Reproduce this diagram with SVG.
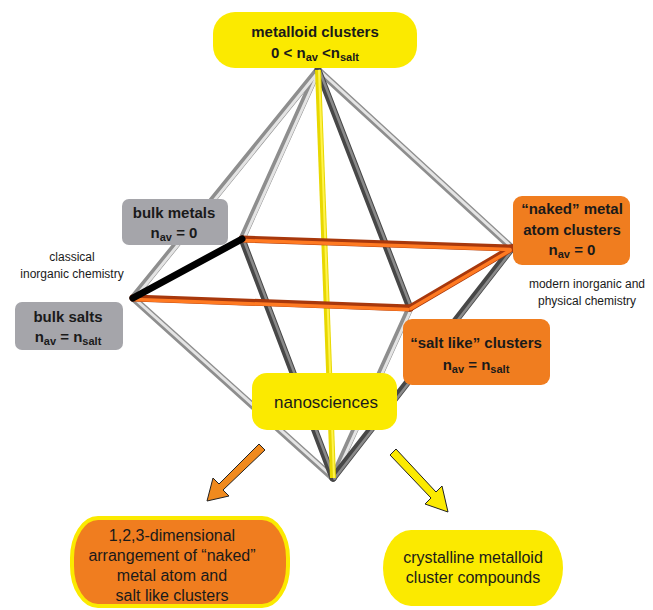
<svg xmlns="http://www.w3.org/2000/svg" width="653" height="610" viewBox="0 0 653 610">
<style>
text{font-family:"Liberation Sans",Arial,sans-serif;fill:#1a1a1a;text-anchor:middle}
.b{font-weight:bold;font-size:15px}
.s{font-size:12px}
.r{font-size:16px}
.lo{stroke:#8e8e8e;stroke-width:7;stroke-linecap:round}
.li{stroke:#e4e4e4;stroke-width:3;stroke-linecap:round}
.do{stroke:#474747;stroke-width:7;stroke-linecap:round}
.di{stroke:#8a8a8a;stroke-width:2.5;stroke-linecap:round}
.oo{stroke:#a8380c;stroke-width:7;stroke-linecap:round}
.oi{stroke:#ff7a22;stroke-width:3.5;stroke-linecap:round}
.yel{fill:#fbea00}
.org{fill:#f07d1f}
.gry{fill:#a5a5aa}
</style>
<rect width="653" height="610" fill="#ffffff"/>
<g id="connectors">
  <g class="lo">
    <line x1="318" y1="70" x2="133" y2="298"/>
    <line x1="318" y1="70" x2="242" y2="239"/>
    <line x1="318" y1="70" x2="512" y2="248"/>
    <line x1="133" y1="298" x2="333" y2="478"/>
    <line x1="410" y1="308" x2="333" y2="478"/>
  </g>
  <g class="li" transform="translate(1.5,0.5)">
    <line x1="318" y1="70" x2="133" y2="298"/>
    <line x1="318" y1="70" x2="242" y2="239"/>
    <line x1="318" y1="70" x2="512" y2="248"/>
    <line x1="133" y1="298" x2="333" y2="478"/>
    <line x1="410" y1="308" x2="333" y2="478"/>
  </g>
  <g class="do">
    <line x1="318" y1="70" x2="410" y2="308"/>
    <line x1="242" y1="239" x2="333" y2="478"/>
    <line x1="512" y1="248" x2="333" y2="478"/>
  </g>
  <g class="di" transform="translate(1.5,0.5)">
    <line x1="318" y1="70" x2="410" y2="308"/>
    <line x1="242" y1="239" x2="333" y2="478"/>
    <line x1="512" y1="248" x2="333" y2="478"/>
  </g>
  <line x1="318" y1="70" x2="333" y2="478" stroke="#e8d800" stroke-width="6"/>
  <line x1="319" y1="70" x2="334" y2="478" stroke="#fff34d" stroke-width="2"/>
  <g class="oo">
    <line x1="242" y1="239" x2="512" y2="248"/>
    <line x1="133" y1="298" x2="410" y2="308"/>
    <line x1="512" y1="248" x2="410" y2="308"/>
  </g>
  <g class="oi" transform="translate(0,1.5)">
    <line x1="244" y1="239" x2="510" y2="248"/>
    <line x1="135" y1="298" x2="408" y2="308"/>
    <line x1="510" y1="249" x2="411" y2="307"/>
  </g>
  <line x1="133" y1="298" x2="242" y2="239" stroke="#000" stroke-width="7" stroke-linecap="round"/>
  <polygon points="259,444 265,450 223,490 229,496 207,501 213,478 219,484" fill="#f08a1e" stroke="#222" stroke-width="1"/>
  <polygon points="390,455 396,449 436,492 442,486 448,512 425,504 431,498" fill="#fbea00" stroke="#222" stroke-width="1"/>
</g>
<g id="metalloid">
  <rect class="yel" x="213" y="12" width="204" height="56" rx="22"/>
  <text class="b" x="315" y="37">metalloid clusters</text>
  <text class="b" x="315" y="58">0 &lt; n<tspan font-size="11" dy="3">av</tspan><tspan dy="-3"> &lt;n</tspan><tspan font-size="11" dy="3">salt</tspan></text>
</g>
<g id="bulkmetals">
  <rect class="gry" x="122" y="199" width="106" height="46" rx="7"/>
  <text class="b" x="174" y="218">bulk metals</text>
  <text class="b" x="174" y="238">n<tspan font-size="11" dy="3">av</tspan><tspan dy="-3"> = 0</tspan></text>
</g>
<g id="classical">
  <text class="s" x="72" y="261">classical</text>
  <text class="s" x="72" y="278">inorganic  chemistry</text>
</g>
<g id="bulksalts">
  <rect class="gry" x="15" y="302" width="108" height="48" rx="7"/>
  <text class="b" x="68" y="322">bulk salts</text>
  <text class="b" x="68" y="342">n<tspan font-size="11" dy="3">av</tspan><tspan dy="-3"> = n</tspan><tspan font-size="11" dy="3">salt</tspan></text>
</g>
<g id="naked">
  <rect class="org" x="513" y="196" width="117" height="69" rx="9"/>
  <text class="b" x="572" y="214">“naked” metal</text>
  <text class="b" x="572" y="235">atom clusters</text>
  <text class="b" x="572" y="255">n<tspan font-size="11" dy="3">av</tspan><tspan dy="-3"> = 0</tspan></text>
</g>
<g id="modern">
  <text class="s" x="587" y="288">modern inorganic and</text>
  <text class="s" x="587" y="305">physical chemistry</text>
</g>
<g id="saltlike">
  <rect class="org" x="403" y="319" width="147" height="66" rx="9"/>
  <text class="b" x="476" y="348">“salt like” clusters</text>
  <text class="b" x="476" y="370">n<tspan font-size="11" dy="3">av</tspan><tspan dy="-3"> = n</tspan><tspan font-size="11" dy="3">salt</tspan></text>
</g>
<g id="nanosciences">
  <rect class="yel" x="252" y="373" width="145" height="57" rx="15"/>
  <text x="326" y="408" font-size="17">nanosciences</text>
</g>
<g id="arrangement">
  <rect x="72" y="518" width="216" height="88" rx="26" ry="40" fill="#f07d1f" stroke="#fbea00" stroke-width="4"/>
  <text class="r" x="172" y="541">1,2,3-dimensional</text>
  <text class="r" x="172" y="561">arrangement of “naked”</text>
  <text class="r" x="172" y="581">metal atom and</text>
  <text class="r" x="172" y="601">salt like clusters</text>
</g>
<g id="crystalline">
  <rect class="yel" x="383" y="530" width="180" height="76" rx="28" ry="38"/>
  <text class="r" x="473" y="563">crystalline metalloid</text>
  <text class="r" x="473" y="583">cluster compounds</text>
</g>
</svg>
